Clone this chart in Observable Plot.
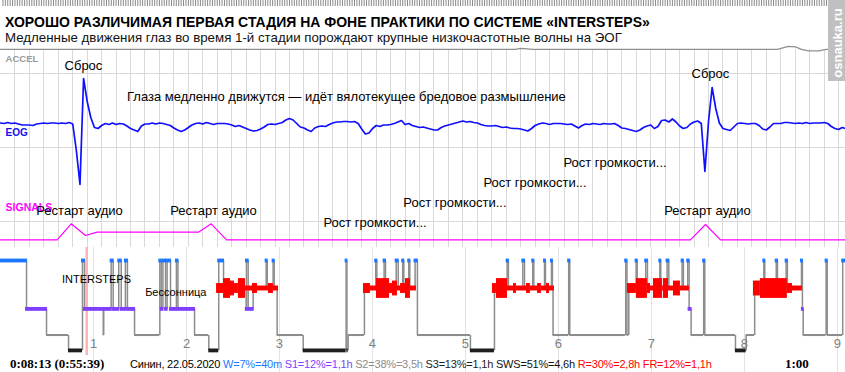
<!DOCTYPE html>
<html><head><meta charset="utf-8">
<script src="https://cdn.jsdelivr.net/npm/d3@7"></script>
<script src="https://cdn.jsdelivr.net/npm/@observablehq/plot@0.6"></script>
<style>
body{margin:0;background:#fff;}
#chart{position:relative;width:845px;height:372px;overflow:hidden;background:#fff;font-family:"Liberation Sans",Arial,sans-serif;}
#chart svg{position:absolute;left:0;}
.txt{position:absolute;white-space:nowrap;}
</style></head><body><div id="chart"></div>
<script>
// ---------------- DATA ----------------
const titleText = "ХОРОШО РАЗЛИЧИМАЯ ПЕРВАЯ СТАДИЯ НА ФОНЕ ПРАКТИКИ ПО СИСТЕМЕ «INTERSTEPS»";
const subtitleText = "Медленные движения глаз во время 1-й стадии порождают крупные низкочастотные волны на ЭОГ";
const watermark = "osnauka.ru";

// EOG window: seconds, one sample every 0.25 s (values in µV-like units, up = positive)
const EOG_DT = 0.25;
const eog = [
 2.5,2,3,2,2.5,1.5,0.5,0.5,0.5,0,
 1.5,2,2.5,2,2.5,2.5,2,2.5,2,3,
 1.5,-25,-59,47,24,8,-2,-3,0,2,
 1,2.5,1,2,1.5,-0.5,-3,-4.5,-6,-0.5,
 1.5,1.5,2.5,1.5,2.5,2,1,0,-2.5,-4.5,
 -6,-4.5,-2,0.5,2,2.5,1.5,3,2,1,
 2,2,2,1.5,0.5,-1,0,-1.5,-3,-4.5,
 -5.5,-5,-3.5,-1.5,1,1.5,1,2,3,5.5,
 7,5.5,2,-1.5,-2.5,-4.5,-6,-2.5,-1,-0.5,
 -1,1,2.5,3.5,3.5,4,4,3.5,4,2,
 -3.5,-8.5,-7.5,-3,0,-1,0.5,0.5,1,2,
 3.5,5,1,2,0,-1,-2,-1.5,-2.5,-3.5,
 -4.5,-4.5,-2,-0.5,0.5,1.5,2.5,3.5,4.5,3.5,
 4,3,2.5,1,0,-0.5,-0.5,0,-1,-2,
 -1.5,-2.5,-3,-3,-3.5,-4.5,-5.5,-3,0,1.5,
 2.5,2,1,2,2,2,1.5,1,1.5,-0.5,
 -2.5,0,1.5,1,2,1.5,1,2,1.5,1.5,
 2,0,-2.5,-3,-4,-5,-6,-4.5,-2,-0.5,
 0.5,-3,-1,5,5.5,3.5,6.5,3.5,-0.5,-3,
 -2,1.5,3.5,4.5,2,-46,4,38,17,2.5,
 -3,-4,-5,-1.5,2,2.5,2,1.5,2,2,
 0,-3.5,-4.5,-1.5,2,2,2,3,3,2.5,
 2,2.5,2,3,2,2.5,2.5,2.5,3,2,
 -1,-3,-4,-2,-3
];
const accelT = [0, 35.64, 35.99, 36.47, 36.82, 53.77, 54.53, 55.02, 55.43, 55.92, 56.61, 57.16, 58.48];
const accelV = [0, 0, 1, 0.5, 0, 0, 3, 2.5, 0, -1.5, -1.5, 0, 0];
const sigT = [0, 3.92, 4.89, 5.88, 6.69, 13.70, 14.58, 15.64, 47.75, 48.79, 49.83, 58.48];
const sigV = [0, 0, 16, 4.3, 7.6, 7.6, 16, 0, 0, 15.3, 0, 0];

const annotText = ["Сброс", "Глаза медленно движутся — идёт вялотекущее бредовое размышление", "Сброс",
  "Рост громкости...", "Рост громкости...", "Рост громкости...", "Рост громкости...",
  "Рестарт аудио", "Рестарт аудио", "Рестарт аудио"];
const annotT = [5.74, 23.94, 49.13, 25.92, 31.45, 36.99, 42.53, 5.47, 14.74, 48.93];
const annotV = [59.5, 28.5, 52, -97.8, -77.8, -57.8, -37.8, -85, -85, -85];
const channelNames = ["ACCEL", "EOG", "SIGNALS"];

// Hypnogram: minutes from recording start
const hypnoStart = [0,16.8,29.7,43.9,52.9,54.2,66.3,66.6,71.4,72.7,76.3,77.9,80.6,81.9,86.5,
 102.8,103.7,104.8,106.5,107.5,109.7,113.5,114.5,125.2,134.4,140.8,143.9,158.6,158.7,159.8,163.0,
 171.4,172.1,175.9,176.6,178.5,195.3,223.0,223.5,224.3,234.8,242.1,242.8,247.5,248.4,255.3,256.6,
 259.5,260.2,263.4,264.1,267.5,269.0,303.2,318.7,326.9,327.7,337.0,338.1,343.4,344.1,351.0,351.6,
 355.5,356.1,356.5,366.6,367.3,403.4,404.2,405.4,410.1,410.8,416.3,417.4,425.4,426.0,430.1,431.2,
 439.8,440.6,443.4,444.3,445.6,453.7,454.4,474.2,481.1,486.6,492.5,493.1,500.5,501.3,506.9,507.7,
 516.8,517.4,517.9,532.7,533.4,543.4];
const hypnoStage = ["W","S1","S2","S3","W","S1","S2","S1","W","S1","W","S1","W","S1","S2",
 "W","S1","W","S1","W","S1","W","S1","S2","S3","W","R","S1","W","S1","R",
 "W","R","W","R","S2","S3","W","S3","S2","R","W","R","W","R","W","R",
 "W","R","W","R","W","S2","S3","R","W","R","W","R","W","R","W","R",
 "W","R","S2","W","S2","W","S2","R","W","R","W","R","W","R","W","R",
 "W","R","W","S1","S2","W","S2","S3","S2","R","W","R","W","R","W","R",
 "W","S1","S2","W","S2","W"];
const recordEnd = 545.2;
// REM eye-movement density blocks: [start min, end min, level 1..4]
const remDensity = [
 [139.4,143.9,2],[143.9,148.4,4],[148.4,151.0,3],[151.0,153.5,2],[153.5,158.1,4],[158.1,162.6,1],
 [162.6,165.8,2],[165.8,172.9,1],[172.9,176.1,2],[176.1,179.4,1],
 [234.2,238.7,2],[238.7,242.6,1],[242.6,251.0,4],[251.0,252.9,2],[252.9,256.1,3],[256.1,258.1,1],
 [258.1,261.3,2],[261.3,264.5,4],[264.5,268.4,1],
 [317.4,320.0,2],[320.0,327.1,4],[327.1,331.0,1],[331.0,332.9,2],[332.9,339.4,1],[339.4,341.9,2],
 [341.9,346.5,1],[346.5,349.0,2],[349.0,352.3,1],[352.3,354.2,2],[354.2,357.4,1],
 [404.5,410.3,2],[410.3,417.4,4],[417.4,419.4,2],[419.4,421.3,1],[421.3,427.1,4],[427.1,427.7,1],
 [427.7,431.0,4],[431.0,434.2,1],[434.2,438.7,3],[438.7,444.5,1],
 [485.8,490.3,3],[490.3,507.7,4],[507.7,511.0,2],[511.0,517.4,1]
];
const hourLabels = [1,2,3,4,5,6,7,8,9];
const currentMin = 55.65; // 0:55:39
const hypnoNotes = ["INTERSTEPS", "Бессонница"];
const hypnoNoteT = [61.9, 113.1];
const hypnoNoteD = [0.67, 1.16];

// footer
const footLeft = "0:08:13 (0:55:39)";
const footWho = "Синин, 22.05.2020";
const statName = ["W","S1","S2","S3","SWS","R","FR"];
const statPct = [7,12,38,13,51,30,12];
const statDur = ["40m","1,1h","3,5h","1,1h","4,6h","2,8h","1,1h"];
const footRight = "1:00";

// ---------------- LAYOUT / STYLE ----------------
const FONT = "Liberation Sans, Arial, sans-serif";
const T_MAX = 58.48;
const ACCEL_BASE = 76.2, SIG_BASE = -114.3;
const V_MIN = -122, V_MAX = 81;
const depth = {W: 0, R: 1, S1: 1.76, S2: 2.71, S3: 3.27};
const stageColor = {W: "#1e78ff", R: "#ff0000", S1: "#7f3fff", S2: "#8c8c8c", S3: "#1e1e1e", SWS: "#111", FR: "#ff0000"};
const chart = document.getElementById("chart");

function addBoxes(svg, pad) {
  const ns = "http://www.w3.org/2000/svg";
  svg.querySelectorAll('g[aria-label="annotation"] text').forEach(t => {
    const b = t.getBBox();
    const r = document.createElementNS(ns, "rect");
    r.setAttribute("x", b.x - pad); r.setAttribute("y", b.y - 0.5);
    r.setAttribute("width", b.width + 2 * pad); r.setAttribute("height", b.height + 1);
    r.setAttribute("fill", "white"); r.setAttribute("fill-opacity", "0.85");
    r.setAttribute("stroke", "none");
    const tr = t.getAttribute("transform"); if (tr) r.setAttribute("transform", tr);
    t.parentNode.insertBefore(r, t);
  });
}

// title / subtitle
const t1 = document.createElement("div");
t1.className = "txt"; t1.textContent = titleText;
Object.assign(t1.style, {left: "5px", top: "15px", font: "bold 14px " + FONT, lineHeight: "14px", color: "#000"});
chart.appendChild(t1);
const t2 = document.createElement("div");
t2.className = "txt"; t2.textContent = subtitleText;
Object.assign(t2.style, {left: "5px", top: "30.5px", font: "13.3px " + FONT, lineHeight: "13px", color: "#111"});
chart.appendChild(t2);

// main signal panel
const accel = accelT.map((t, i) => ({t, v: accelV[i]}));
const sig = sigT.map((t, i) => ({t, v: sigV[i]}));
const annots = annotText.map((s, i) => ({s, t: annotT[i], v: annotV[i]}));
const chanY = [66.5, -7, -82.5];
const chanColor = ["#999999", "#1010f0", "#ff00ff"];
const chanSize = [9.5, 10, 10.5];
const panelB = Plot.plot({
  width: 845, height: V_MAX - V_MIN, margin: 0,
  x: {domain: [0, T_MAX], axis: null},
  y: {domain: [V_MIN, V_MAX], axis: null},
  marks: [
    Plot.ruleX(d3.range(1, Math.ceil(T_MAX)), {y1: ACCEL_BASE, y2: V_MIN, stroke: "#d9d9d9", strokeWidth: 1, shapeRendering: "crispEdges"}),
    Plot.ruleY([52.5, -21.5, -96], {stroke: "#d9d9d9", strokeWidth: 1, shapeRendering: "crispEdges"}),
    Plot.line(accel, {x: "t", y: d => ACCEL_BASE + d.v, stroke: "#8f8f8f", strokeWidth: 1.3}),
    Plot.line(sig, {x: "t", y: d => SIG_BASE + d.v, stroke: "#ff00ff", strokeWidth: 1.2}),
    Plot.line(eog, {x: (d, i) => i * EOG_DT, y: d => d, stroke: "#1010ff", strokeWidth: 1.7}),
    ...channelNames.map((n, i) => Plot.text([n], {x: 0.35, y: chanY[i], text: d => d, textAnchor: "start",
      fill: chanColor[i], fontWeight: "bold", fontSize: chanSize[i], fontFamily: FONT})),
    Plot.text(annots, {x: "t", y: "v", text: "s", fill: "#000", fontSize: 13, fontFamily: FONT, ariaLabel: "annotation"})
  ]
});
panelB.style.top = (125 - V_MAX) + "px";
chart.appendChild(panelB);
addBoxes(panelB, 2.5);

// hypnogram panel
const segs = hypnoStart.map((s, i) => ({start: s, end: i + 1 < hypnoStart.length ? hypnoStart[i + 1] : recordEnd, stage: hypnoStage[i]}));
const trans = segs.slice(1).map((s, i) => ({t: s.start, from: segs[i].stage, to: s.stage}));
const D_TOP = -0.491, D_BOT = 4.055;
const REM_GAIN = 0.09, BAR = 0.07, LINE = 0.037;
const stageBars = ["S3", "S1", "W"].map(st => Plot.rect(segs.filter(d => d.stage === st), {
  x1: "start", x2: "end", y1: d => depth[st] - BAR, y2: d => depth[st] + BAR, fill: stageColor[st],
  insetLeft: st === "S3" ? 0 : -1, insetRight: st === "S3" ? 0 : -1}));
const notes = hypnoNotes.map((s, i) => ({s, t: hypnoNoteT[i], d: hypnoNoteD[i]}));
const panelC = Plot.plot({
  width: 845, height: 125, margin: 0,
  x: {domain: [0, recordEnd], axis: null},
  y: {domain: [D_TOP, D_BOT], reverse: true, axis: null},
  marks: [
    Plot.ruleX(hourLabels.map(h => h * 60), {stroke: "#e2e2e2", strokeWidth: 1, shapeRendering: "crispEdges"}),
    Plot.ruleX([currentMin], {y1: D_TOP, y2: 3.44, stroke: "#ffb3b3", strokeWidth: 2.5}),
    Plot.ruleX(trans, {x: "t", y1: d => depth[d.from], y2: d => depth[d.to], stroke: "#8c8c8c", strokeWidth: 1.5}),
    Plot.rect(segs.filter(d => d.stage === "S2"), {x1: "start", x2: "end", y1: depth.S2 - LINE, y2: depth.S2 + LINE, fill: stageColor.S2}),
    Plot.rect(remDensity, {x1: d => d[0], x2: d => d[1], y1: d => depth.R - d[2] * REM_GAIN, y2: d => depth.R + d[2] * REM_GAIN, fill: stageColor.R}),
    ...stageBars,
    Plot.text(hourLabels, {x: h => h * 60, y: 3.0, text: d => String(d), fill: "#808080", fontSize: 13, fontFamily: FONT}),
    Plot.text(notes, {x: "t", y: "d", text: "s", fill: "#000", fontSize: 11, fontFamily: FONT, ariaLabel: "annotation"})
  ]
});
panelC.style.top = "247px";
chart.appendChild(panelC);
addBoxes(panelC, 2);

// footer
const fl = document.createElement("div");
fl.className = "txt"; fl.textContent = footLeft;
Object.assign(fl.style, {left: "10px", top: "357px", font: "bold 13px Liberation Serif, serif", lineHeight: "13px", color: "#000"});
chart.appendChild(fl);
const fm = document.createElement("div");
fm.className = "txt";
Object.assign(fm.style, {left: "130px", top: "358px", font: "11px " + FONT, lineHeight: "12px", letterSpacing: "-0.2px", color: "#000"});
let html = footWho;
statName.forEach((n, i) => {
  html += ` <span style="color:${stageColor[n]}">${n}=${statPct[i]}%=${statDur[i]}</span>`;
});
fm.innerHTML = html;
chart.appendChild(fm);
const fr = document.createElement("div");
fr.className = "txt"; fr.textContent = footRight;
Object.assign(fr.style, {left: "785px", top: "357px", font: "bold 13px Liberation Serif, serif", lineHeight: "13px", color: "#000"});
chart.appendChild(fr);

// top ruler strip: thin rect ticks every 1/6 s
const rulerTicks = d3.range(1, Math.floor(T_MAX * 6)).map(k => k / 6);
const TICK_W = 1 / 14.45; // one tick width ≈ 1 px in seconds
const ruler = Plot.plot({
  width: 845, height: 8, margin: 0,
  x: {domain: [0, T_MAX], axis: null},
  y: {domain: [0, 1], axis: null},
  marks: [Plot.rect(rulerTicks, {x1: d => d, x2: d => d + TICK_W, y1: 0.25, y2: 1, fill: "#8a8a8a"})]
});
Object.assign(ruler.style, {top: "0px", zIndex: "5", background: "transparent"});
chart.appendChild(ruler);

// watermark
const wm = document.createElement("div");
Object.assign(wm.style, {position: "absolute", left: "828px", top: "0px", width: "17px", height: "81px", background: "#c0c0c0", zIndex: "6"});
const wt = document.createElement("div");
wt.textContent = watermark;
Object.assign(wt.style, {position: "absolute", left: "8.5px", top: "43px", transform: "translate(-50%,-50%) rotate(-90deg)",
  font: "bold 13px " + FONT, color: "#fff", whiteSpace: "nowrap", lineHeight: "13px"});
wm.appendChild(wt);
chart.appendChild(wm);
</script></body></html>
